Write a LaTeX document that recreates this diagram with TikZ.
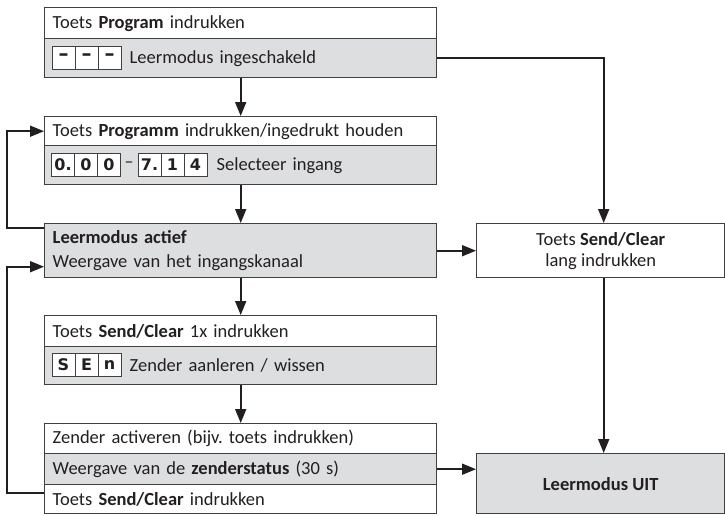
\documentclass[tikz,border=0pt]{standalone}
\usepackage{fontspec}
\setmainfont{Carlito}
\newfontfamily\digitfont{DejaVu Sans}
\usetikzlibrary{arrows.meta,calc}
\definecolor{boxgray}{HTML}{DDDEE0}
\definecolor{linegray}{HTML}{404040}
\definecolor{inkc}{HTML}{231F20}
\frenchspacing
\begin{document}
\begin{tikzpicture}[x=1pt,y=-1pt,
  row/.style={draw=linegray, line width=1.4pt, text width=376pt, inner xsep=8pt, inner ysep=0pt,
    align=left, anchor=north west, font=\fontsize{18.5}{24}\selectfont, text=inkc},
  rbox/.style={draw=linegray, line width=1.4pt, minimum width=248pt, inner sep=0pt,
    align=center, anchor=north west, font=\fontsize{18.5}{21}\selectfont, text=inkc},
  cell/.style={draw=linegray, line width=1pt, fill=white, minimum width=23pt, minimum height=23pt,
    inner sep=0pt, font=\digitfont\bfseries\fontsize{16}{16}\selectfont, text=inkc},
  dashcell/.style={cell, font=\digitfont\bfseries\fontsize{20}{20}\selectfont},
  conn/.style={draw=inkc, line width=1.8pt, -{Triangle[length=14pt,width=11pt]}}
]
\useasboundingbox (0,0) rectangle (725,515);

% left column
\node[row, fill=white, minimum height=31pt] (b1a) at (44,7) {Toets \textbf{Program} indrukken};
\node[row, fill=boxgray, minimum height=39pt] (b1b) at (44,38) {\hspace*{77pt}Leermodus ingeschakeld};
\node[dashcell] (c1) at (63.5,57.5) {–};
\node[dashcell] (c2) at (86.5,57.5) {–};
\node[dashcell] (c3) at (109.5,57.5) {–};

\node[row, fill=white, minimum height=29pt] (b2a) at (44,116) {Toets \textbf{Programm} indrukken/ingedrukt houden};
\node[row, fill=boxgray, minimum height=39pt] (b2b) at (44,145) {\hspace*{164pt}Selecteer ingang};
\node[cell] (d1) at (63,164.5) {0.};
\node[cell] (d2) at (86,164.5) {0};
\node[cell] (d3) at (109,164.5) {0};
\node[font=\fontsize{18}{18}\selectfont, text=inkc, inner sep=0pt] (dash) at (129,164.5) {–};
\node[cell] (d4) at (149.5,164.5) {7.};
\node[cell] (d5) at (172.5,164.5) {1};
\node[cell] (d6) at (195.5,164.5) {4};

\node[row, fill=boxgray, minimum height=54pt] (b3) at (44,223) {\textbf{Leermodus actief}\\Weergave van het ingangskanaal};

\node[row, fill=white, minimum height=31pt] (b4a) at (44,315) {Toets \textbf{Send/Clear} 1x indrukken};
\node[row, fill=boxgray, minimum height=38pt] (b4b) at (44,346) {\hspace*{77pt}Zender aanleren / wissen};
\node[cell] (s1) at (63.5,365) {S};
\node[cell] (s2) at (86.5,365) {E};
\node[cell] (s3) at (109.5,365) {n};

\node[row, fill=white, minimum height=30pt] (b5a) at (44,423) {Zender activeren (bijv. toets indrukken)};
\node[row, fill=boxgray, minimum height=31pt] (b5b) at (44,453) {Weergave van de \textbf{zenderstatus} (30 s)};
\node[row, fill=white, minimum height=29pt] (b5c) at (44,484) {Toets \textbf{Send/Clear} indrukken};

% right column
\node[rbox, fill=white, minimum height=54pt] (r1) at (476,223) {Toets \textbf{Send/Clear}\\lang indrukken};
\node[rbox, fill=boxgray, minimum height=60pt] (r2) at (476,453) {\textbf{Leermodus UIT}};

% connectors
\draw[conn] (b1b.south) -- (b2a.north);
\draw[conn] (b2b.south) -- (b3.north);
\draw[conn] (b3.south) -- (b4a.north);
\draw[conn] (b4b.south) -- (b5a.north);
\draw[conn] (b1b.east) -| ([xshift=3pt]r1.north);
\draw[conn] (b3.east) -- (r1.west);
\draw[conn] ([xshift=3pt]r1.south) -- ([xshift=3pt]r2.north);
\draw[conn] (b5b.east) -- (b5b.east -| r2.west);
\draw[conn] ([yshift=-5pt]b3.north west) -- ++(-37,0) |- (b2a.west);
\draw[conn] ([yshift=-9pt]b5c.north west) -- ++(-37,0) |- ([yshift=-16pt]b3.west);
\end{tikzpicture}
\end{document}
